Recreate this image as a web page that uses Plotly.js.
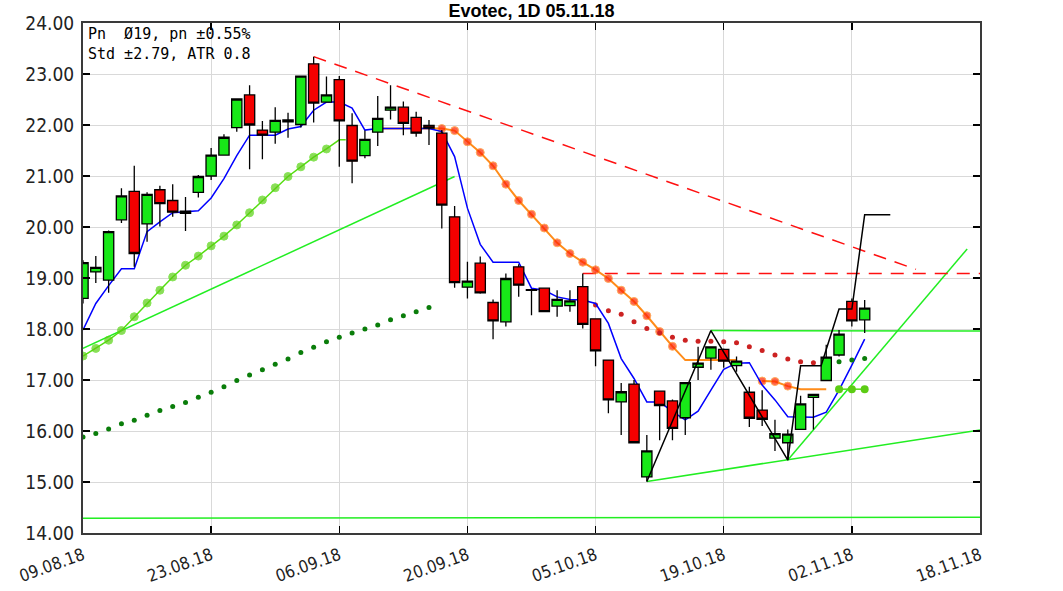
<!DOCTYPE html>
<html>
<head>
<meta charset="utf-8">
<script src="https://cdn.plot.ly/plotly-3.0.1.min.js"></script>
<style>html,body{margin:0;padding:0;background:#fff;}#chart{width:1063px;height:591px;}</style>
</head>
<body>
<div id="chart"></div>
<script>
// ---- tick labels (trading-day index 0..70) ----
const tickIdx = [0, 10, 20, 30, 40, 50, 60, 70];
const tickLabels = ['09.08.18','23.08.18','06.09.18','20.09.18','05.10.18','19.10.18','02.11.18','18.11.18'];

// ---- daily candles, index 0 = 09.08.18 ... 61 = 05.11.18 ----
const openP = [18.60,19.12,18.96,20.14,20.70,20.06,20.73,20.52,20.27,20.68,
  21.00,21.41,21.95,22.59,21.90,21.86,22.10,22.01,23.20,22.45,
  22.89,21.99,21.40,21.86,22.29,22.35,22.15,21.99,21.84,20.20,
  18.82,19.29,18.52,18.14,19.22,18.77,18.80,18.45,18.46,18.83,
  18.20,17.39,16.57,16.92,15.10,16.78,16.59,16.26,17.25,17.43,
  17.60,17.28,16.76,16.41,15.86,15.77,16.03,16.66,16.99,17.49,
  18.54,18.18];
const highP = [19.35,19.43,19.93,20.76,21.20,20.68,20.81,20.84,20.59,21.02,
  21.55,21.82,22.52,22.78,22.08,22.35,22.24,22.97,23.34,22.95,
  22.96,22.23,21.89,22.57,22.78,22.46,22.26,22.10,21.90,20.41,
  19.32,19.42,18.58,19.09,19.27,18.78,18.80,18.76,18.76,19.09,
  18.21,17.40,16.94,17.00,15.92,16.78,16.62,16.96,17.65,17.66,
  17.62,17.46,16.87,16.80,16.22,16.03,16.69,16.73,17.69,17.98,
  18.60,18.57];
const lowP = [18.50,18.90,18.71,20.08,19.22,19.71,20.01,20.20,19.92,20.58,
  20.92,21.40,21.87,21.13,21.33,21.63,21.75,21.95,22.05,22.44,
  21.18,20.86,21.35,21.59,22.11,21.80,21.77,21.61,19.97,18.81,
  18.60,18.69,17.80,18.05,18.63,18.27,18.34,18.24,18.34,18.01,
  17.27,16.35,15.92,15.76,15.01,15.82,15.82,15.92,17.00,17.20,
  17.24,17.16,16.08,16.10,15.61,15.43,16.03,16.03,16.99,17.46,
  18.05,17.92];
const closeP = [19.30,19.21,19.91,20.61,19.48,20.64,20.46,20.29,20.31,20.99,
  21.41,21.76,22.51,22.00,21.80,22.09,22.06,22.96,22.43,22.59,
  22.08,21.29,21.72,22.13,22.35,22.03,21.84,21.94,20.43,18.91,
  18.94,18.71,18.16,18.99,18.86,18.76,18.34,18.58,18.55,18.09,
  17.57,16.61,16.77,15.77,15.61,16.50,16.05,16.95,17.33,17.65,
  17.37,17.37,16.25,16.23,15.95,15.94,16.53,16.72,17.45,17.90,
  18.16,18.41];

// ---- blue moving line (index 0..61) ----
const blueLine = [17.98,18.50,18.85,19.18,19.18,19.91,20.10,20.28,20.30,20.32,
  20.57,20.95,21.40,21.80,21.80,21.80,21.92,21.97,22.29,22.45,
  22.45,22.33,21.90,21.93,21.93,21.93,21.93,21.93,21.87,21.38,
  20.37,19.66,19.31,19.31,19.31,18.80,18.76,18.63,18.58,18.57,
  18.50,18.11,17.42,17.03,16.57,16.57,16.38,16.22,16.39,16.80,
  17.21,17.33,17.34,16.90,16.61,16.28,16.27,16.27,16.37,16.80,
  17.29,17.80];

// ---- light green rising stop line (dots 0..19, line to 20.5) ----
const greenStopX = [0,1,2,3,4,5,6,7,8,9,10,11,12,13,14,15,16,17,18,19,20,20.5];
const greenStopY = [17.47,17.62,17.78,17.97,18.24,18.51,18.76,19.02,19.25,19.43,
  19.63,19.82,20.04,20.28,20.53,20.77,20.99,21.18,21.37,21.53,21.71,21.71];

// ---- orange falling stop line with red dots ----
const orangeX = [23,24,25,26,27,28,29,30,31,32,33,34,35,36,37,38,39,40,41,42,43,44,45,46,47,48,49,50,51];
const orangeY = [21.93,21.93,21.93,21.93,21.93,21.93,21.89,21.67,21.46,21.20,
  20.84,20.52,20.25,19.98,19.69,19.48,19.31,19.16,18.99,18.76,
  18.54,18.26,17.95,17.66,17.39,17.39,17.39,17.39,17.39];
const orange2X = [53,54,55,56,57,58];
const orange2Y = [16.98,16.97,16.88,16.82,16.82,16.82];

// ---- dark red dotted line ----
const darkRedX = [40,41,42,43,44,45,46,47,48,49,50,51,52,53,54,55,56,57];
const darkRedY = [18.47,18.36,18.29,18.14,18.01,17.92,17.84,17.78,17.76,17.76,
  17.75,17.73,17.65,17.58,17.49,17.41,17.36,17.34];

// ---- dark green dotted line ----
const darkGreenX = [0,1,2,3,4,5,6,7,8,9,10,11,12,13,14,15,16,17,18,19,20,21,22,23,24,25,26,27];
const darkGreenY = [15.88,15.95,16.04,16.14,16.21,16.31,16.40,16.48,16.56,16.66,
  16.76,16.87,16.99,17.10,17.20,17.31,17.41,17.54,17.64,17.75,
  17.84,17.92,18.00,18.08,18.18,18.26,18.34,18.42];
const darkGreen2X = [59,60,61];
const darkGreen2Y = [17.36,17.39,17.42];
const lightGreen2X = [59,60,61];
const lightGreen2Y = [16.82,16.82,16.82];

// ---- trend lines (end points) ----
const upTrendX = [0,29],  upTrendY = [17.62,20.99];
const supportX = [44,70], supportY = [15.01,16.02];
const steepX = [55,69],   steepY = [15.43,19.57];
const resistX = [49,70],  resistY = [17.97,17.96];
const baseX = [0,70],     baseY = [14.29,14.31];
const redDownX = [18,65], redDownY = [23.34,19.17];
const redFlatX = [39,70], redFlatY = [19.09,19.09];

// ---- zigzag ----
const zigX = [44,49,55,56,57.6,59,60,61,63];
const zigY = [15.01,17.97,15.43,17.28,17.28,18.39,18.39,20.24,20.24];

const idx = openP.map((_, i) => i);

function line(x, y, color, width, dash) {
  return {type:'scatter', mode:'lines', x:x, y:y, xaxis:'x', yaxis:'y',
    line:{color:color, width:width, dash:dash || 'solid'}, hoverinfo:'skip'};
}
function dots(x, y, color, size) {
  return {type:'scatter', mode:'markers', x:x, y:y, xaxis:'x', yaxis:'y',
    marker:{color:color, size:size, line:{width:0}}, hoverinfo:'skip'};
}

const traces = [
  line(baseX, baseY, '#22ee22', 1.5),
  line(upTrendX, upTrendY, '#22ee22', 1.5),
  line(supportX, supportY, '#22ee22', 1.5),
  line(steepX, steepY, '#22ee22', 1.5),
  line(resistX, resistY, '#22ee22', 1.5),
  line(redDownX, redDownY, '#ff1010', 1.5, '13px,9px'),
  line(redFlatX, redFlatY, '#ff1010', 1.5, '13px,9px'),
  dots(darkGreenX, darkGreenY, '#0a7d0a', 5),
  {type:'scatter', mode:'lines+markers', x:greenStopX, y:greenStopY, xaxis:'x', yaxis:'y',
    line:{color:'#55dd11', width:1.5},
    marker:{color:'#5ccc14', size:greenStopX.map((v,i)=> i < 20 ? 8 : 0)}, hoverinfo:'skip'},
  {type:'scatter', mode:'lines+markers', x:orangeX, y:orangeY, xaxis:'x', yaxis:'y',
    line:{color:'#ff8c1a', width:2},
    marker:{color:'#ff2200', size:orangeX.map(v => (v >= 28 && v <= 46) ? 8 : 0)}, hoverinfo:'skip'},
  {type:'scatter', mode:'lines+markers', x:orange2X, y:orange2Y, xaxis:'x', yaxis:'y',
    line:{color:'#ff8c1a', width:2},
    marker:{color:'#ff2200', size:orange2X.map(v => v <= 55 ? 8 : 0)}, hoverinfo:'skip'},
  dots(darkRedX, darkRedY, '#cc2222', 5),
  line(idx, blueLine, '#0000ff', 1.5),
  {type:'scatter', mode:'lines+markers', x:lightGreen2X, y:lightGreen2Y, xaxis:'x', yaxis:'y',
    line:{color:'#55dd11', width:1.5}, marker:{color:'#5ccc14', size:8}, hoverinfo:'skip'},
  dots(darkGreen2X, darkGreen2Y, '#0a7d0a', 5),
  {type:'candlestick', x:idx, open:openP, high:highP, low:lowP, close:closeP,
    xaxis:'x2', yaxis:'y2', whiskerwidth:0,
    increasing:{line:{color:'#000000', width:1.3}, fillcolor:'#18e818'},
    decreasing:{line:{color:'#000000', width:1.3}, fillcolor:'#f40000'},
    hoverinfo:'skip'},
  {type:'scatter', mode:'lines', x:zigX, y:zigY, xaxis:'x2', yaxis:'y2',
    line:{color:'#000000', width:1.5}, hoverinfo:'skip'}
];

const narrow = 'Liberation Sans Narrow, Arial Narrow, DejaVu Sans Condensed, sans-serif';
const layout = {
  width:1063, height:591,
  margin:{l:83, r:83, t:23, b:58, pad:0},
  paper_bgcolor:'#ffffff', plot_bgcolor:'#ffffff',
  showlegend:false, hovermode:false, boxgap:0.2, boxgroupgap:0,
  title:{text:'<b>Evotec, 1D 05.11.18</b>', x:0.5, xanchor:'center', xref:'paper',
    y:1 - 11/591, yanchor:'middle', yref:'container',
    font:{family:'Liberation Sans, Arial, sans-serif', size:18, color:'#000'}},
  xaxis:{range:[0,70], tickmode:'array', tickvals:tickIdx, ticktext:tickLabels, tickangle:-20,
    showgrid:true, gridcolor:'#d9d9d9', gridwidth:1, zeroline:false,
    showline:true, linecolor:'#3a3a3a', linewidth:2, mirror:'ticks',
    ticks:'inside', ticklen:7, tickwidth:1.5, tickcolor:'#000',
    tickfont:{family:narrow, size:17, color:'#222'}, ticklabelstandoff:4,
    rangeslider:{visible:false}, fixedrange:true},
  yaxis:{range:[14,24], tickmode:'linear', tick0:14, dtick:1, tickformat:'.2f',
    showgrid:true, gridcolor:'#d9d9d9', gridwidth:1, zeroline:false,
    showline:true, linecolor:'#3a3a3a', linewidth:2, mirror:'ticks',
    ticks:'inside', ticklen:7, tickwidth:1.5, tickcolor:'#000',
    tickfont:{family:narrow, size:19, color:'#222'}, ticklabelstandoff:3, fixedrange:true},
  xaxis2:{overlaying:'x', range:[0,70], visible:false, rangeslider:{visible:false}, fixedrange:true},
  yaxis2:{overlaying:'y', range:[14,24], visible:false, fixedrange:true},
  annotations:[{
    xref:'paper', yref:'paper', x:0, y:1, xanchor:'left', yanchor:'top', xshift:3, yshift:0,
    align:'left', showarrow:false,
    text:'Pn \u00a0\u00d819, pn \u00b10.55%<br>Std \u00b12.79, ATR 0.8',
    font:{family:'DejaVu Sans Mono, monospace', size:15, color:'#000'}
  }]
};

Plotly.newPlot('chart', traces, layout, {staticPlot:true, displayModeBar:false});
</script>
</body>
</html>
